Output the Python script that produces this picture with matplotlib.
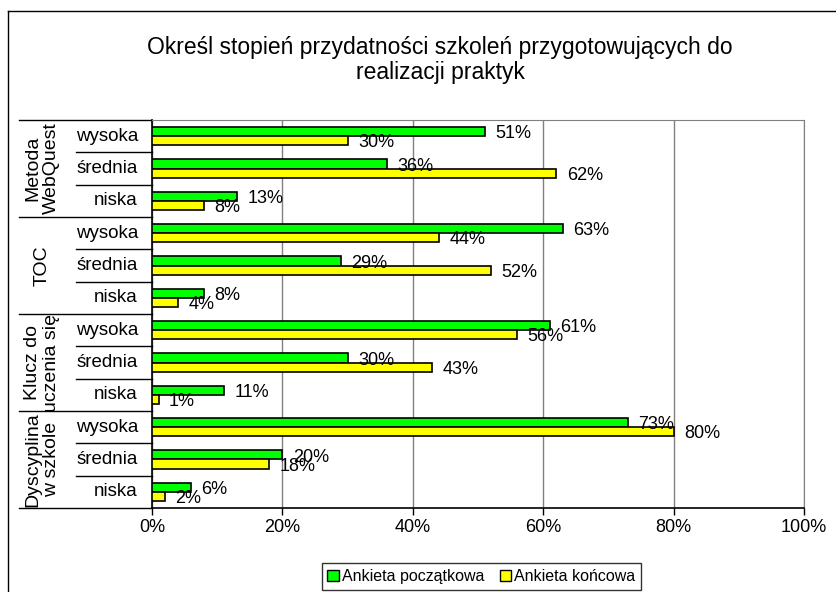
import matplotlib
matplotlib.use("Agg")
import matplotlib.pyplot as plt
from matplotlib.lines import Line2D
from matplotlib.patches import Patch
import numpy as np

plt.rcParams['font.family'] = ['Liberation Sans', 'DejaVu Sans']

groups = ["Metoda\nWebQuest", "TOC", "Klucz do\nuczenia się", "Dyscyplina\nw szkole"]
levels = ["wysoka", "średnia", "niska"]
poczatkowa = [51, 36, 13, 63, 29, 8, 61, 30, 11, 73, 20, 6]
koncowa = [30, 62, 8, 44, 52, 4, 56, 43, 1, 80, 18, 2]
xticks = [0, 20, 40, 60, 80, 100]
title = "Określ stopień przydatności szkoleń przygotowujących do\nrealizacji praktyk"
series_names = ["Ankieta początkowa", "Ankieta końcowa"]

W, H = 837, 592
fig = plt.figure(figsize=(W / 100, H / 100), dpi=100)
L, R, T, B = 152, 804, 120, 508
ax = fig.add_axes([L / W, 1 - B / H, (R - L) / W, (B - T) / H])

n = len(poczatkowa)
y = np.arange(n)
h = 0.28
green, yellow = "#00FF00", "#FFFF00"
ax.barh(y - h / 2, poczatkowa, height=h, color=green, edgecolor="black", linewidth=1.2, zorder=3)
ax.barh(y + h / 2, koncowa, height=h, color=yellow, edgecolor="black", linewidth=1.2, zorder=3)

for yi, v in zip(y - h / 2, poczatkowa):
    ax.annotate(f"{v}%", (v, yi), xytext=(7.5, -1.5), textcoords="offset points",
                va="center", ha="left", fontsize=13, zorder=4)
for yi, v in zip(y + h / 2, koncowa):
    ax.annotate(f"{v}%", (v, yi), xytext=(7.5, -1.5), textcoords="offset points",
                va="center", ha="left", fontsize=13, zorder=4)

ax.set_xlim(0, 100)
ax.set_ylim(n - 0.5, -0.5)
ax.set_xticks(xticks)
ax.set_xticklabels([f"{t}%" for t in xticks], fontsize=13)
ax.tick_params(axis="x", direction="out", length=5, width=1, pad=3, colors="black")
ax.set_yticks([])
ax.grid(axis="x", color="#808080", linewidth=1, zorder=0)
ax.set_axisbelow(True)
for s in ["top", "right"]:
    ax.spines[s].set_color("#808080")
for s in ["left", "bottom"]:
    ax.spines[s].set_color("black")
    ax.spines[s].set_linewidth(1.2)

# multi-level category axis
trans = ax.get_yaxis_transform()
x_outer = (19 - L) / (R - L)
x_inner = (76 - L) / (R - L)
for k in range(n + 1):
    x0 = x_outer if k % 3 == 0 else x_inner
    ax.add_line(Line2D([x0, 0], [k - 0.5, k - 0.5], transform=trans, color="black",
                       linewidth=1, clip_on=False))
x_lab = (138 - L) / (R - L)
for i in range(n):
    ax.text(x_lab, i, levels[i % 3], transform=trans, ha="right", va="center", fontsize=13.5)
x_grp = (42 - L) / (R - L)
for g, name in enumerate(groups):
    ax.text(x_grp, g * 3 + 1, name, transform=trans, ha="center", va="center",
            rotation=90, fontsize=14, multialignment="center", linespacing=1.1)

fig.text(440 / W, 1 - 60 / H, title, ha="center", va="center", fontsize=16.5, linespacing=1.15)

handles = [Patch(facecolor=green, edgecolor="black"), Patch(facecolor=yellow, edgecolor="black")]
leg = fig.legend(handles, series_names, loc="center", bbox_to_anchor=(481.5 / W, 1 - 576.5 / H),
                 ncol=2, fontsize=11.5, frameon=True, fancybox=False, edgecolor="black",
                 handlelength=0.7, handleheight=0.7, handletextpad=0.2, columnspacing=1.0,
                 borderpad=0.35, borderaxespad=0)
leg.get_frame().set_linewidth(1)

# outer chart border
fig.add_artist(Line2D([8 / W, 8 / W], [0, 1 - 11 / H], transform=fig.transFigure, color="black", linewidth=1))
fig.add_artist(Line2D([8 / W, 1], [1 - 11 / H, 1 - 11 / H], transform=fig.transFigure, color="black", linewidth=1))

fig.savefig("out.png", dpi=100)
